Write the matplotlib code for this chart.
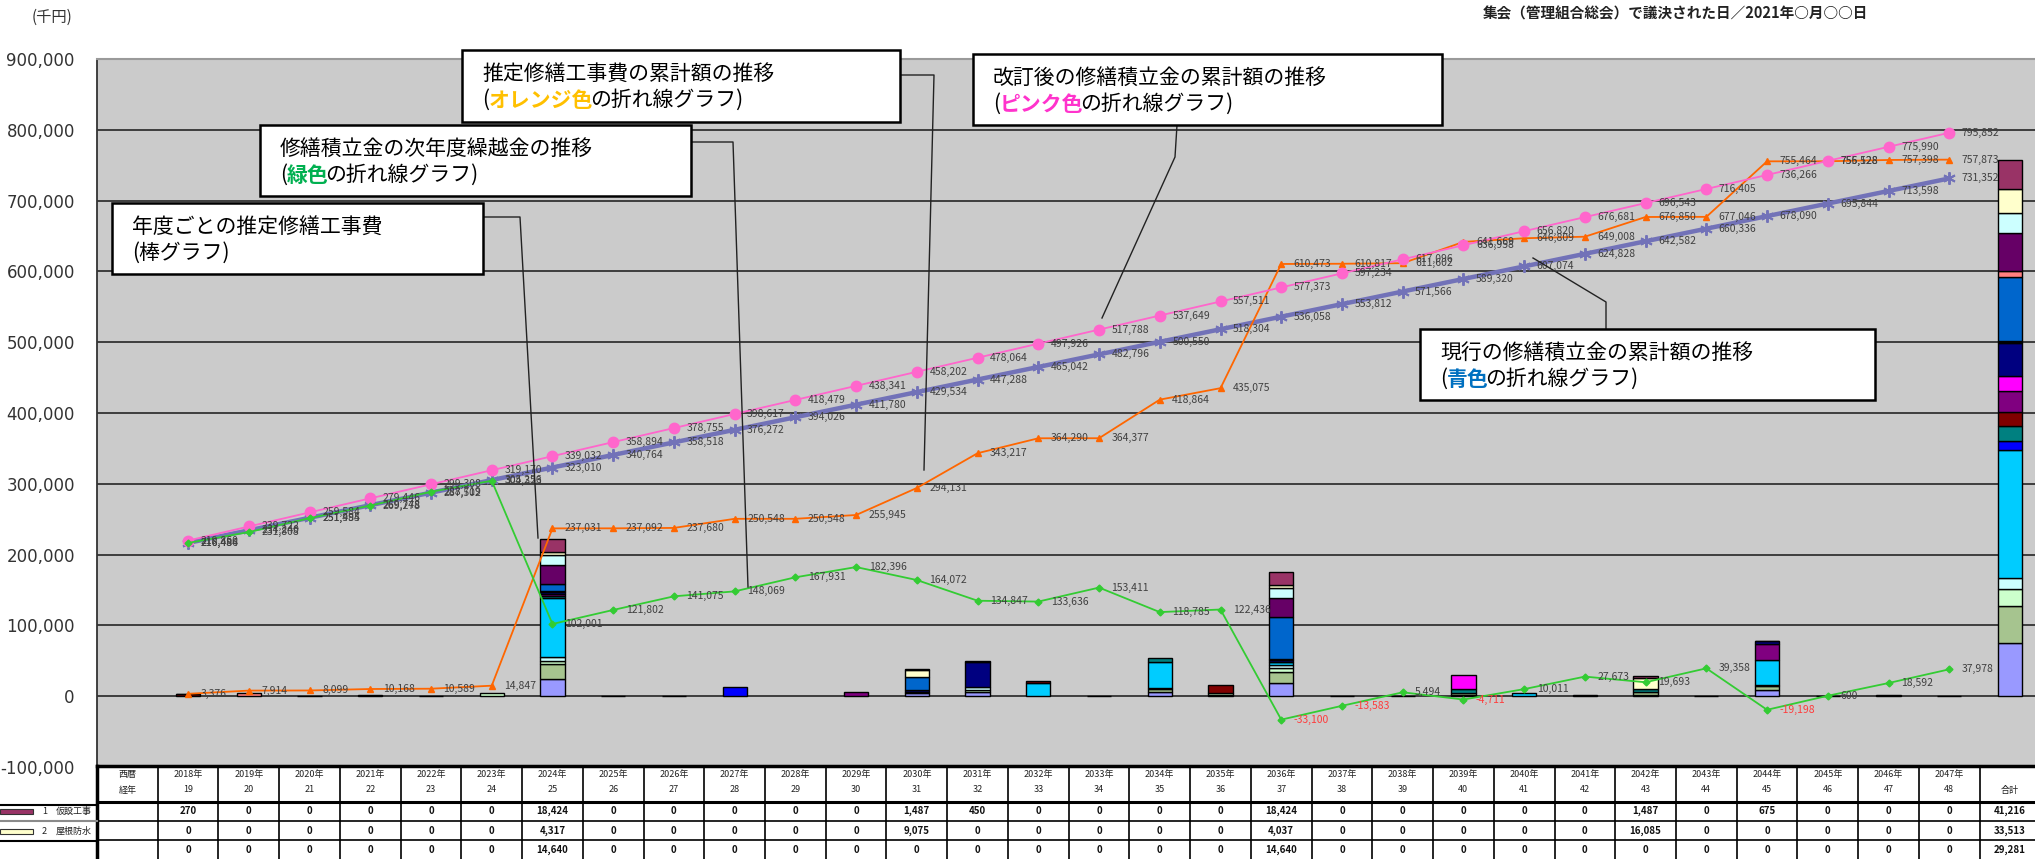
import numpy as np
import matplotlib
matplotlib.use("Agg")
import matplotlib.pyplot as plt
from matplotlib.patches import Rectangle

plt.rcParams['font.family'] = ['Noto Sans CJK JP', 'DejaVu Sans']

# ==========================================================
# データ（千円）
# ==========================================================
years = list(range(2018, 2048))
ages = list(range(19, 49))

# 改訂後の修繕積立金の累計額（ピンク）
revised_cum = [219860, 239722, 259584, 279446, 299308, 319170, 339032, 358894, 378755, 398617,
               418479, 438341, 458202, 478064, 497926, 517788, 537649, 557511, 577373, 597234,
               617096, 636958, 656820, 676681, 696543, 716405, 736266, 756128, 775990, 795852]
# 現行の修繕積立金の累計額（青）
current_cum = [216486, 234240, 251994, 269748, 287502, 305256, 323010, 340764, 358518, 376272,
               394026, 411780, 429534, 447288, 465042, 482796, 500550, 518304, 536058, 553812,
               571566, 589320, 607074, 624828, 642582, 660336, 678090, 695844, 713598, 731352]
# 推定修繕工事費の累計額（オレンジ）
cost_cum = [3376, 7914, 8099, 10168, 10589, 14847, 237031, 237092, 237680, 250548,
            250548, 255945, 294131, 343217, 364290, 364377, 418864, 435075, 610473, 610817,
            611602, 641669, 646809, 649008, 676850, 677046, 755464, 755528, 757398, 757873]
# 修繕積立金の次年度繰越金（緑）
carryover = [216484, 231808, 251485, 269278, 288719, 304323, 102001, 121802, 141075, 148069,
             167931, 182396, 164072, 134847, 133636, 153411, 118785, 122436, -33100, -13583,
             5494, -4711, 10011, 27673, 19693, 39358, -19198, 600, 18592, 37978]

# 工事項目ごとの年度別推定工事費
item01 = [270, 0, 0, 0, 0, 0, 18424, 0, 0, 0,
          0, 0, 1487, 450, 0, 0, 0, 0, 18424, 0,
          0, 0, 0, 0, 1487, 0, 675, 0, 0, 0]
item02 = [0, 0, 0, 0, 0, 0, 4317, 0, 0, 0,
          0, 0, 9075, 0, 0, 0, 0, 0, 4037, 0,
          0, 0, 0, 0, 16085, 0, 0, 0, 0, 0]
item03 = [0, 0, 0, 0, 0, 0, 14640, 0, 0, 0,
          0, 0, 0, 0, 0, 0, 0, 0, 14640, 0,
          0, 0, 0, 0, 0, 0, 0, 0, 0, 0]
item04 = [0, 0, 0, 0, 0, 0, 27000, 0, 0, 0,
          0, 0, 0, 0, 0, 0, 0, 0, 26000, 0,
          0, 0, 0, 0, 0, 0, 0, 0, 0, 0]
item05 = [0, 4538, 0, 2069, 0, 0, 0, 61, 0, 0,
          0, 0, 0, 0, 0, 87, 0, 0, 0, 0,
          0, 0, 0, 0, 0, 0, 0, 64, 1870, 0]
item06 = [0, 0, 0, 0, 0, 0, 9000, 0, 0, 0,
          0, 0, 19000, 0, 0, 0, 0, 0, 60000, 0,
          0, 0, 0, 2199, 0, 0, 0, 0, 0, 0]
item07 = [0, 0, 0, 0, 0, 0, 1500, 0, 0, 0,
          0, 0, 0, 0, 0, 0, 0, 0, 1500, 0,
          0, 0, 0, 0, 0, 0, 0, 0, 0, 0]
item08 = [0, 0, 0, 0, 0, 0, 3000, 0, 0, 0,
          0, 0, 2500, 35000, 0, 0, 0, 0, 2000, 0,
          0, 0, 0, 0, 0, 0, 4000, 0, 0, 0]
item09 = [0, 0, 185, 0, 421, 0, 0, 0, 588, 0,
          0, 0, 0, 0, 0, 0, 0, 0, 0, 0,
          0, 20000, 0, 0, 0, 0, 0, 0, 0, 0]
item10 = [0, 0, 0, 0, 0, 0, 3000, 0, 0, 0,
          0, 5397, 0, 0, 0, 0, 0, 0, 0, 0,
          0, 0, 0, 0, 0, 0, 22000, 0, 0, 0]
item11 = [3106, 0, 0, 0, 0, 0, 0, 0, 0, 0,
          0, 0, 0, 0, 3000, 0, 0, 12000, 0, 344,
          785, 0, 0, 0, 0, 196, 0, 0, 0, 475]
item12 = [0, 0, 0, 0, 0, 0, 2500, 0, 0, 0,
          0, 0, 0, 0, 0, 0, 6500, 0, 1000, 0,
          0, 5000, 0, 0, 5000, 0, 0, 0, 0, 0]
item13 = [0, 0, 0, 0, 0, 0, 0, 0, 0, 12868,
          0, 0, 0, 0, 0, 0, 0, 0, 0, 0,
          0, 0, 0, 0, 0, 0, 0, 0, 0, 0]
item14 = [0, 0, 0, 0, 0, 0, 83000, 0, 0, 0,
          0, 0, 0, 0, 18073, 0, 36000, 0, 3500, 0,
          0, 0, 5140, 0, 0, 0, 36000, 0, 0, 0]
item15 = [0, 0, 0, 0, 0, 0, 5500, 0, 0, 0,
          0, 0, 0, 5000, 0, 0, 0, 0, 5000, 0,
          0, 0, 0, 0, 0, 0, 0, 0, 0, 0]
item16 = [0, 0, 0, 0, 0, 4258, 5500, 0, 0, 0,
          0, 0, 0, 2500, 0, 0, 2000, 2000, 5500, 0,
          0, 0, 0, 0, 0, 0, 1500, 0, 0, 0]
item17 = [0, 0, 0, 0, 0, 0, 20000, 0, 0, 0,
          0, 0, 1000, 0, 0, 0, 3500, 2211, 15000, 0,
          0, 3000, 0, 0, 3000, 0, 5000, 0, 0, 0]
item18 = [0, 0, 0, 0, 0, 0, 24803, 0, 0, 0,
          0, 0, 5124, 6136, 0, 0, 6487, 0, 18797, 0,
          0, 2067, 0, 0, 2270, 0, 9243, 0, 0, 0]

# 表に載せる項目
row_labels = ["仮設工事", "屋根防水", ""]
row_totals = [41216, 33513, 29281]

# 積み上げ順（下から）と色
stack = [
    (item18, "#9999ff"), (item17, "#a6c48f"), (item16, "#ccffcc"), (item15, "#ccffff"),
    (item14, "#00ccff"), (item13, "#0000ff"), (item12, "#008080"), (item11, "#800000"),
    (item10, "#800080"), (item09, "#ff00ff"), (item08, "#000080"), (item07, "#000000"),
    (item06, "#0066cc"), (item05, "#ff8080"), (item04, "#660066"), (item03, "#ccffff"),
    (item02, "#ffffcc"), (item01, "#993366"),
]

# ==========================================================
# レイアウト（ピクセル）
# ==========================================================
W, H = 2035, 859
PX_LEFT, PX_TOP, PX_BOTTOM = 97, 59, 767
COL_W = 60.73
N_COLS = 32          # 左端の見出し列 + 30年 + 合計

fig = plt.figure(figsize=(W / 100, H / 100), dpi=100, facecolor="white")
ax = fig.add_axes([PX_LEFT / W, 1 - PX_BOTTOM / H, N_COLS * COL_W / W, (PX_BOTTOM - PX_TOP) / H])
ax.set_facecolor("#cbcbcb")
ax.set_xlim(-0.5, N_COLS - 0.5)
ax.set_ylim(-100000, 900000)

for v in range(0, 900000, 100000):
    ax.axhline(v, color="#333333", lw=1.3, zorder=1)

ax.set_yticks(range(-100000, 900001, 100000))
ax.set_yticklabels([f"{v:,}" for v in range(-100000, 900001, 100000)])
ax.set_xticks([])
ax.tick_params(axis="y", length=0, pad=16, labelsize=12, labelcolor="#333333")
for lbl in ax.get_yticklabels():
    lbl.set_fontfamily("DejaVu Sans")
for side in ("right", "bottom"):
    ax.spines[side].set_visible(False)
ax.spines["left"].set_color("#333333")
ax.spines["left"].set_linewidth(1.3)
ax.spines["top"].set_color("#9a9a9a")
ax.spines["top"].set_linewidth(1.5)

# ---- 棒グラフ（年度ごと + 合計） ----
x_years = np.arange(1, 31)
bottom = np.zeros(30)
total_bottom = 0
for vals, col in stack:
    vals = np.array(vals, dtype=float)
    nz = vals > 0
    ax.bar(x_years[nz], vals[nz], 0.4, bottom=bottom[nz], color=col,
           edgecolor="black", lw=1.0, zorder=2)
    bottom += vals
    ax.bar(31, vals.sum(), 0.4, bottom=total_bottom, color=col,
           edgecolor="black", lw=1.0, zorder=2)
    total_bottom += vals.sum()

# ---- 折れ線グラフ ----
ax.plot(x_years, current_cum, color="#7272b8", lw=3.2, marker=(6, 2, 0), ms=9, mew=1.4, zorder=3)
ax.plot(x_years, cost_cum, color="#ff6600", lw=1.3, marker="^", ms=5, zorder=4)
ax.plot(x_years, revised_cum, color="#ff66cc", lw=1.3, marker="o", ms=7.5, zorder=5)
ax.plot(x_years, carryover, color="#33cc33", lw=1.3, marker="D", ms=3.5, zorder=6)


def point_labels(vals):
    for x, v in zip(x_years, vals):
        ax.annotate(f"{v:,}", (x, v), xytext=(9, 0), textcoords="offset points",
                    ha="left", va="center", fontsize=7.5,
                    color="#ff3b3b" if v < 0 else "#404040", zorder=7)


for series in (current_cum, cost_cum, revised_cum, carryover):
    point_labels(series)

# ==========================================================
# 注記・表（ピクセル座標）
# ==========================================================
ov = fig.add_axes([0, 0, 1, 1])
ov.set_xlim(0, W)
ov.set_ylim(H, 0)
ov.axis("off")

ov.text(52, 17, "(千円)", ha="center", va="center", fontsize=11, color="#333333")
ov.text(1675, 13, "集会（管理組合総会）で議決された日／2021年○月○○日", ha="center", va="center",
        fontsize=10.5, fontweight="bold", color="#222222")


def text_line(x, y, parts):
    # 色付きの語を続けて並べる
    t = None
    prev_bold = False
    for s, c in parts:
        bold = c != "black"
        w = "bold" if bold else "normal"
        if t is None:
            t = ov.text(x, y, s, color=c, fontsize=15, fontweight=w,
                        ha="left", va="center", zorder=6)
        else:
            t = ov.annotate(s, xy=(1, 0), xycoords=t, ha="left", va="bottom",
                            xytext=(-2.5 if prev_bold else 0, 0), textcoords="offset points",
                            color=c, fontsize=15, fontweight=w, zorder=6)
        prev_bold = bold


def callout(box, lines, path):
    x0, y0, x1, y1 = box
    ov.plot(*zip(*path), color="#222222", lw=1.0, zorder=3)
    ov.add_patch(Rectangle((x0, y0), x1 - x0, y1 - y0, fc="white", ec="black", lw=1.8, zorder=4))
    for k, parts in enumerate(lines):
        text_line(x0 + 20, y0 + 25 + k * 25, parts)


K = "black"
callout((112, 203, 483, 274),
        [[("年度ごとの推定修繕工事費", K)], [("(棒グラフ)", K)]],
        [(483, 217), (520, 217), (538, 538)])
callout((260, 125, 691, 196),
        [[("修繕積立金の次年度繰越金の推移", K)],
         [("(", K), ("緑色", "#00b050"), ("の折れ線グラフ)", K)]],
        [(691, 142), (733, 142), (748, 587)])
callout((462, 50, 900, 122),
        [[("推定修繕工事費の累計額の推移", K)],
         [("(", K), ("オレンジ色", "#ffc000"), ("の折れ線グラフ)", K)]],
        [(900, 75), (934, 75), (924, 470)])
callout((973, 54, 1442, 125),
        [[("改訂後の修繕積立金の累計額の推移", K)],
         [("(", K), ("ピンク色", "#ff33cc"), ("の折れ線グラフ)", K)]],
        [(1177, 125), (1175, 157), (1102, 318)])
callout((1420, 329, 1875, 400),
        [[("現行の修繕積立金の累計額の推移", K)],
         [("(", K), ("青色", "#0070c0"), ("の折れ線グラフ)", K)]],
        [(1606, 329), (1606, 302), (1533, 258)])

# ---- 表 ----
col_x = [PX_LEFT + k * COL_W for k in range(N_COLS + 1)]
centers = [PX_LEFT + (k + 0.5) * COL_W for k in range(N_COLS)]

ov.plot([PX_LEFT, W], [766, 766], color="black", lw=2.5)
ov.plot([PX_LEFT, W], [802, 802], color="black", lw=2.2)
ov.plot([PX_LEFT, W], [821, 821], color="black", lw=1.2)
ov.plot([PX_LEFT, W], [840, 840], color="black", lw=1.2)
for k, x in enumerate(col_x):
    ov.plot([x, x], [766, H], color="black", lw=2.5 if k == 0 else 1.2)

ov.plot([0, PX_LEFT], [805, 805], color="black", lw=1.5)
ov.plot([0, PX_LEFT], [821, 821], color="#8a8a8a", lw=1.5)
ov.plot([0, PX_LEFT], [841, 841], color="black", lw=1.5)

hdr = dict(ha="center", va="center", fontsize=6.5, color="#222222")
ov.text(centers[0], 775, "西暦", **hdr)
ov.text(centers[0], 790, "経年", **hdr)
for k, (yr, ag) in enumerate(zip(years, ages)):
    ov.text(centers[k + 1], 775, f"{yr}年", **hdr)
    ov.text(centers[k + 1], 790, str(ag), **hdr)
ov.text(centers[31], 790, "合計", **hdr)

row_y = [811, 831, 850]
swatch = ["#993366", "#ffffcc"]
for r, (vals, tot) in enumerate(zip([item01, item02, item03], row_totals)):
    y = row_y[r]
    for k, v in enumerate(vals):
        ov.text(centers[k + 1], y, f"{v:,}", ha="center", va="center", fontsize=7,
                fontweight="bold", color="#111111")
    ov.text(centers[31], y, f"{tot:,}", ha="center", va="center", fontsize=7,
            fontweight="bold", color="#111111")
    if row_labels[r]:
        ov.add_patch(Rectangle((0, y - 2.5), 33, 5, fc=swatch[r], ec="#333333", lw=0.8))
        ov.text(42, y, str(r + 1), ha="left", va="center", fontsize=6.5, color="#222222")
        ov.text(56, y, row_labels[r], ha="left", va="center", fontsize=6.5, color="#222222")

fig.savefig("out.png", dpi=100, facecolor="white")
